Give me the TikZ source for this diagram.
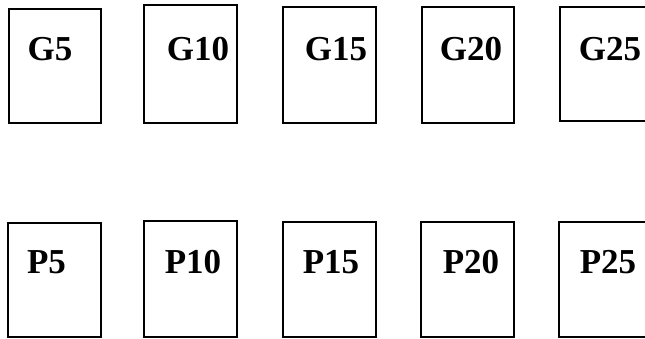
\documentclass[tikz,border=0pt]{standalone}
\usepackage{fontspec}
\setmainfont{Liberation Serif}
\begin{document}
\begin{tikzpicture}[x=1pt,y=-1pt,
  box/.style={draw=black, line width=1.3pt, inner sep=0pt, outer sep=0pt, rectangle},
  lbl/.style={anchor=base, inner sep=0pt, font=\fontsize{35}{40}\selectfont\bfseries}]
\useasboundingbox (0,0) rectangle (645,338);
\clip (0,0) rectangle (645,338);
% top row
\node[box, minimum width=92pt, minimum height=114pt] (g5)  at (55,66) {};
\node[box, minimum width=93pt, minimum height=118pt] (g10) at (190.5,64) {};
\node[box, minimum width=93pt, minimum height=116pt] (g15) at (329.5,65) {};
\node[box, minimum width=92pt, minimum height=116pt] (g20) at (468,65) {};
\node[box, minimum width=100pt, minimum height=114pt] (g25) at (610,64) {};
\node[lbl] (g5t)  at (50,60) {G5};
\node[lbl] (g10t) at (198,60) {G10};
\node[lbl] (g15t) at (336,60) {G15};
\node[lbl] (g20t) at (471,60) {G20};
\node[lbl] (g25t) at (610,60) {G25};
% bottom row
\node[box, minimum width=93pt, minimum height=114pt] (p5)  at (54.5,280) {};
\node[box, minimum width=93pt, minimum height=116pt] (p10) at (190.5,279) {};
\node[box, minimum width=93pt, minimum height=115pt] (p15) at (329.5,279.5) {};
\node[box, minimum width=93pt, minimum height=115pt] (p20) at (467.5,279.5) {};
\node[box, minimum width=101pt, minimum height=115pt] (p25) at (609.5,279.5) {};
\node[lbl] (p5t)  at (46.5,273) {P5};
\node[lbl] (p10t) at (193,273) {P10};
\node[lbl] (p15t) at (331,273) {P15};
\node[lbl] (p20t) at (471,273) {P20};
\node[lbl] (p25t) at (608,273) {P25};
\end{tikzpicture}
\end{document}
